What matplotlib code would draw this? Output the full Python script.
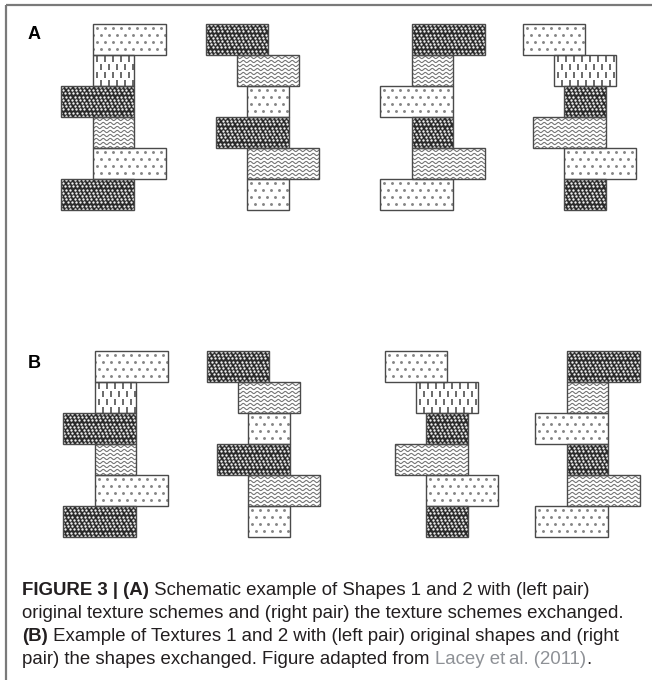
import numpy as np
import matplotlib
matplotlib.use("Agg")
import matplotlib.pyplot as plt
from matplotlib.patches import Rectangle

# block geometry of the two shapes (pixels, relative to the shape origin)
ROW_H = 31
shape1_left = [32, 32, 0, 32, 32, 0]
shape1_width = [73, 41, 73, 41, 73, 73]
shape2_left = [0, 31, 41, 10, 41, 41]
shape2_width = [62, 62, 42, 73, 72, 42]

# texture schemes, top block to bottom block
texture1 = ['light', 'dash', 'dark', 'wavy', 'light', 'dark']
texture2 = ['dark', 'wavy', 'light', 'dark', 'wavy', 'light']

# panel A: shapes with original / exchanged textures
panel_a_shapes = [1, 2, 1, 2]
panel_a_textures = [1, 2, 2, 1]
panel_a_x = [61, 206, 380, 523]
panel_a_top = 24

# panel B: textures with original / exchanged shapes
panel_b_shapes = [1, 2, 2, 1]
panel_b_textures = [1, 2, 1, 2]
panel_b_x = [63, 207, 385, 535]
panel_b_top = 351

caption = [
    [("FIGURE 3 | (A)", "bold", "#231f20"),
     (" Schematic example of Shapes 1 and 2 with (left pair)", "normal", "#231f20")],
    [("original texture schemes and (right pair) the texture schemes exchanged.", "normal", "#231f20")],
    [("(B)", "bold", "#231f20"),
     (" Example of Textures 1 and 2 with (left pair) original shapes and (right", "normal", "#231f20")],
    [("pair) the shapes exchanged. Figure adapted from ", "normal", "#231f20"),
     ("Lacey et\u2009al. (2011)", "normal", "#8e9196"),
     (".", "normal", "#231f20")],
]

SHAPES = {1: (shape1_left, shape1_width), 2: (shape2_left, shape2_width)}
TEXTURES = {1: texture1, 2: texture2}
EDGE = '#4a4a4a'
FONT = ['Liberation Sans', 'DejaVu Sans']


def stagger(x0, y0, w, h, dx, dy, pad, phases=2):
    xs, ys = [], []
    for i, y in enumerate(np.arange(y0 + pad, y0 + h, dy)):
        off = (dx / phases) * (i % phases)
        for x in np.arange(x0 + pad + off - dx, x0 + w, dx):
            xs.append(x)
            ys.append(y)
    return np.array(xs), np.array(ys)


def draw_block(ax, x0, y0, w, h, texture):
    face = '#2a2a2a' if texture == 'dark' else 'white'
    bg = Rectangle((x0, y0), w, h, facecolor=face, edgecolor='none', zorder=1)
    ax.add_patch(bg)
    arts = []
    if texture == 'light':
        xs, ys = stagger(x0, y0, w, h, 8, 7, 3.5)
        arts += ax.plot(xs, ys, ls='none', marker='o', ms=2.1, mew=0,
                        color='#858585', zorder=2)
    elif texture == 'dash':
        xs, ys = stagger(x0, y0, w, h, 8, 8, 4)
        arts += ax.plot(xs, ys, ls='none', marker='|', ms=3.8, mew=1.4,
                        color='#6a6a6a', zorder=2)
    elif texture == 'dark':
        xs, ys = stagger(x0, y0, w, h, 4.2, 3.2, 1, phases=3)
        arts += ax.plot(xs, ys, ls='none', marker='o', ms=1.7, mew=0,
                        color='#f0f0f0', zorder=2)
    elif texture == 'wavy':
        xx = np.linspace(x0, x0 + w, 200)
        for yc in np.arange(y0 + 2.5, y0 + h, 4.0):
            arts += ax.plot(xx, yc + 1.1 * np.sin(2 * np.pi * xx / 7.0),
                            color='#767676', lw=0.8, zorder=2)
    for a in arts:
        a.set_clip_path(bg)
    ax.add_patch(Rectangle((x0, y0), w, h, facecolor='none', edgecolor=EDGE,
                           lw=1.0, zorder=3))


def draw_panel(ax, shapes, textures, xs, top):
    for s, t, x in zip(shapes, textures, xs):
        left, width = SHAPES[s]
        for row, (l, w, tex) in enumerate(zip(left, width, TEXTURES[t])):
            draw_block(ax, x + l, top + row * ROW_H, w, ROW_H, tex)


fig = plt.figure(figsize=(6.52, 6.80), dpi=100)
ax = fig.add_axes([0, 0, 1, 1])
ax.set_xlim(0, 652)
ax.set_ylim(680, 0)
ax.axis('off')

# frame
ax.plot([6, 652], [5, 5], color='#7a7a7a', lw=1.6, solid_capstyle='butt')
ax.plot([6, 6], [5, 680], color='#7a7a7a', lw=1.6, solid_capstyle='butt')

draw_panel(ax, panel_a_shapes, panel_a_textures, panel_a_x, panel_a_top)
draw_panel(ax, panel_b_shapes, panel_b_textures, panel_b_x, panel_b_top)

ax.text(28, 39, 'A', fontsize=13, fontweight='bold', family=FONT, va='baseline')
ax.text(28, 368, 'B', fontsize=13, fontweight='bold', family=FONT, va='baseline')

# caption, written piece by piece so bold and coloured parts line up
renderer = fig.canvas.get_renderer()
baselines = [595, 618, 641, 664]
for line, yb in zip(caption, baselines):
    x = 22
    for txt, weight, col in line:
        t = ax.text(x, yb, txt, fontsize=13.4, fontweight=weight, color=col,
                    family=FONT, va='baseline', ha='left')
        bb = t.get_window_extent(renderer)
        x += bb.width  # 1 data unit == 1 pixel

fig.savefig('out.png', dpi=100)
